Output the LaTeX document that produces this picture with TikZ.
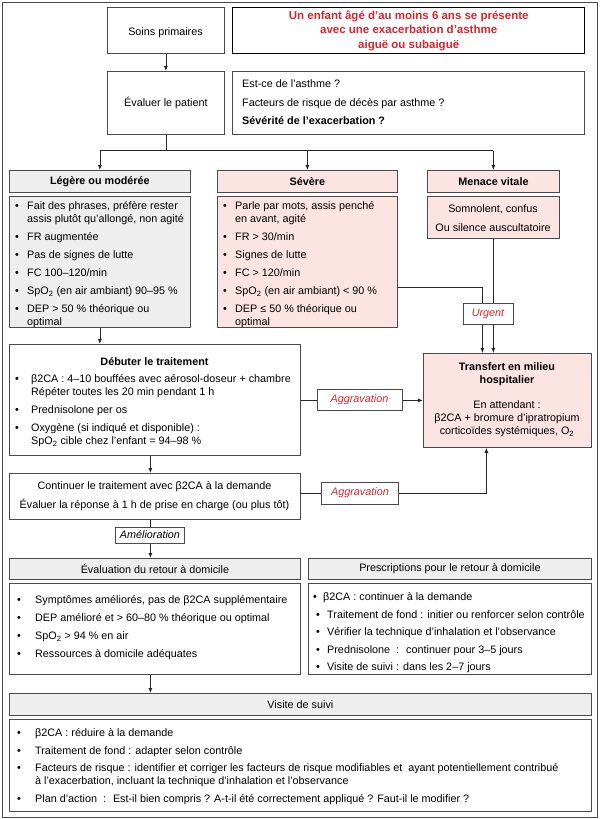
\documentclass[tikz,border=0pt]{standalone}
\usepackage{fontspec}
\setmainfont{Liberation Sans}
\usetikzlibrary{arrows.meta}
\definecolor{bord}{HTML}{4A4A4A}
\definecolor{grayf}{HTML}{EEEEEE}
\definecolor{pinkf}{HTML}{FCE4E2}
\definecolor{redt}{HTML}{D9252D}
\newcommand\bodyfont{\fontsize{10.8}{13}\selectfont}
\newcommand\bul[1][12pt]{\makebox[#1][l]{•}}
\newcommand\ind[1][12pt]{\hspace*{#1}}
\newcommand\st{\rule{0pt}{10pt}}
\begin{document}
\begin{tikzpicture}[x=1pt,y=-1pt,
  box/.style={draw=bord, line width=0.8pt, anchor=north west, inner sep=0pt, font=\bodyfont},
  txt/.style={anchor=north west, inner sep=0pt, align=left, font=\bodyfont},
  ctxt/.style={anchor=north, inner sep=0pt, align=center, font=\bodyfont},
  arr/.style={draw=black!85, line width=0.8pt, -{Latex[length=5pt,width=4pt]}},
  ln/.style={draw=black!85, line width=0.8pt},
  lab/.style={draw=bord, line width=0.6pt, fill=white, inner sep=0pt, font=\bodyfont\itshape, text=redt}
]
\useasboundingbox (0,0) rectangle (600,819);
\draw[draw=bord, line width=0.8pt] (2,2) rectangle (597,817);

% top row
\node[box, minimum width=117pt, minimum height=46pt] (soins) at (107,7) {};
\node[font=\bodyfont, inner sep=0pt] (soinsT) at (165.5,33) {Soins primaires};
\node[box, draw=black, line width=1.4pt, minimum width=352pt, minimum height=46pt, align=center,
      font=\fontsize{11.5}{14.5}\selectfont\bfseries, text=redt] (title) at (232,7)
      {Un enfant âgé d’au moins 6 ans se présente\\avec une exacerbation d’asthme\\aiguë ou subaiguë};
\node[box, minimum width=117pt, minimum height=63pt] (eval) at (107,71) {Évaluer le patient};
\node[box, minimum width=352pt, minimum height=63pt] (quest) at (232,71) {};
\node[txt] (questT) at (242,77.5) {\st Est-ce de l'asthme ?\\[5.5pt] Facteurs de risque de décès par asthme ?\\[5.5pt] \textbf{Sévérité de l'exacerbation ?}};

% severity headers
\node[box, fill=grayf, minimum width=181pt, minimum height=22pt, font=\bodyfont\bfseries] (legH) at (9,170) {Légère ou modérée};
\node[box, fill=pinkf, minimum width=180pt, minimum height=22pt, font=\bodyfont\bfseries] (sevH) at (217,170) {Sévère};
\node[box, fill=pinkf, minimum width=132pt, minimum height=22pt, font=\bodyfont\bfseries] (menH) at (427,170) {Menace vitale};

% severity bodies
\node[box, fill=grayf, minimum width=181pt, minimum height=131pt] (legB) at (9,196) {};
\node[txt] (legT) at (15,199.5) {\st\bul Fait des phrases, préfère rester\\ \ind assis plutôt qu’allongé, non agité\\[5pt]
  \bul FR augmentée\\[5pt] \bul Pas de signes de lutte\\[5pt] \bul FC 100–120/min\\[5pt]
  \bul SpO\textsubscript{2} (en air ambiant) 90–95 \%\\[5pt] \bul DEP > 50 \% théorique ou\\ \ind optimal};
\node[box, fill=pinkf, minimum width=180pt, minimum height=131pt] (sevB) at (217,196) {};
\node[txt] (sevT) at (223,199.5) {\st\bul Parle par mots, assis penché\\ \ind en avant, agité\\[5pt]
  \bul FR > 30/min\\[5pt] \bul Signes de lutte\\[5pt] \bul FC > 120/min\\[5pt]
  \bul SpO\textsubscript{2} (en air ambiant) < 90 \%\\[5pt] \bul DEP ≤ 50 \% théorique ou\\ \ind optimal};
\node[box, fill=pinkf, minimum width=132pt, minimum height=42pt] (menB) at (427,196) {};
\node[ctxt] (menT) at (493,202.5) {\st Somnolent, confus\\[6pt] Ou silence auscultatoire};

% treatment
\node[box, minimum width=291pt, minimum height=111pt] (deb) at (9,344) {};
\node[ctxt, font=\bodyfont\bfseries] (debH) at (154.5,355.5) {\st Débuter le traitement};
\node[txt] (debT) at (15,372.5) {\st\bul[13pt] β2CA : 4–10 bouffées avec aérosol-doseur + chambre\\ \ind[13pt] Répéter toutes les 20 min pendant 1 h\\[5pt]
  \bul[13pt] Prednisolone per os\\[5pt] \bul[13pt] Oxygène (si indiqué et disponible) :\\ \ind[13pt] SpO\textsubscript{2} cible chez l’enfant = 94–98 \%};

\node[box, fill=pinkf, minimum width=168pt, minimum height=94pt] (trans) at (423,353) {};
\node[ctxt] (transT) at (507,360.5) {\st\textbf{Transfert en milieu}\\ \textbf{hospitalier}\\[12pt] En attendant :\\ β2CA + bromure d’ipratropium\\ corticoïdes systémiques, O\textsubscript{2}};

\node[box, minimum width=291pt, minimum height=46pt] (cont) at (9,473) {};
\node[ctxt] (contT) at (154.5,479.5) {\st Continuer le traitement avec β2CA à la demande\\[6pt] Évaluer la réponse à 1 h de prise en charge (ou plus tôt)};

% home
\node[box, fill=grayf, minimum width=291pt, minimum height=21pt] (evH) at (9,558) {Évaluation du retour à domicile};
\node[box, minimum width=291pt, minimum height=91pt] (evB) at (9,583) {};
\node[txt] (evT) at (17,593.5) {\st\bul[15pt] Symptômes améliorés, pas de β2CA supplémentaire\\[5pt]
  \bul[15pt] DEP amélioré et > 60–80 \% théorique ou optimal\\[5pt]
  \bul[15pt] SpO\textsubscript{2} > 94 \% en air\\[5pt] \bul[15pt] Ressources à domicile adéquates};
\node[box, fill=grayf, minimum width=283pt, minimum height=21pt] (prH) at (308,558) {Prescriptions pour le retour à domicile};
\node[box, minimum width=283pt, minimum height=91pt] (prB) at (308,583) {};
\node[txt] (prT) at (313,590.5) {\st\bul[7pt] β2CA : continuer à la demande\\[4.5pt]
  \ind[3pt]\bul[8pt] Traitement de fond : initier ou renforcer selon contrôle\\[4.5pt]
  \ind[3pt]\bul[8pt] Vérifier la technique d’inhalation et l’observance\\[4.5pt]
  \ind[3pt]\bul[8pt] Prednisolone \ : \ continuer pour 3–5 jours\\[4.5pt]
  \ind[3pt]\bul[8pt] Visite de suivi : dans les 2–7 jours};

\node[box, fill=grayf, minimum width=582pt, minimum height=22pt] (visH) at (9,693) {Visite de suivi};
\node[box, minimum width=582pt, minimum height=92pt] (visB) at (9,719) {};
\node[txt] (visT) at (17,726.5) {\st\bul[15pt] β2CA : réduire à la demande\\[4.5pt]
  \bul[15pt] Traitement de fond : adapter selon contrôle\\[4.5pt]
  \bul[15pt] Facteurs de risque : identifier et corriger les facteurs de risque modifiables et \ ayant potentiellement contribué\\
  \ind[15pt] à l’exacerbation, incluant la technique d'inhalation et l’observance\\[4.5pt]
  \bul[15pt] Plan d’action \ : \ Est-il bien compris ? A-t-il été correctement appliqué ? Faut-il le modifier ?};

% connectors
\draw[arr] (soins) -- (eval);
\draw[ln] (eval.south) -- ++(0,16) coordinate (br);
\draw[ln] (legH.north |- br) -- (menH.north |- br);
\draw[arr] (legH.north |- br) -- (legH.north);
\draw[arr] (sevH.north |- br) -- (sevH.north);
\draw[arr] (menH.north |- br) -- (menH.north);
\draw[arr] (legB.south) -- (deb.north -| legB.south);
\draw[arr] ([xshift=-4.5pt]deb.south) -- ([xshift=-4.5pt]cont.north);
\draw[arr] ([xshift=-4.5pt]cont.south) -- ([xshift=-4.5pt]evH.north);
\draw[arr] ([xshift=-4.5pt]evB.south) -- ([xshift=-4.5pt]evB.south |- visH.north);
\draw[arr] ([yshift=-25.5pt]sevB.east) -| ([xshift=-25pt]trans.north);
\draw[arr] (menB.south) -- (menB.south |- trans.north);
\draw[arr] (deb.east |- trans.west) -- (trans.west);
\draw[arr] ([yshift=3pt]cont.east) -| ([xshift=-21pt]trans.south);

% labels
\node[lab, minimum width=85pt, minimum height=21pt] (ag1) at (359.5,400) {Aggravation};
\node[lab, minimum width=77pt, minimum height=22pt] (ag2) at (360,493) {Aggravation};
\node[lab, minimum width=50pt, minimum height=21pt] (urg) at (488,314) {Urgent};
\node[lab, text=black, minimum width=69pt, minimum height=16pt] (amel) at (150,535) {Amélioration};
\end{tikzpicture}
\end{document}
